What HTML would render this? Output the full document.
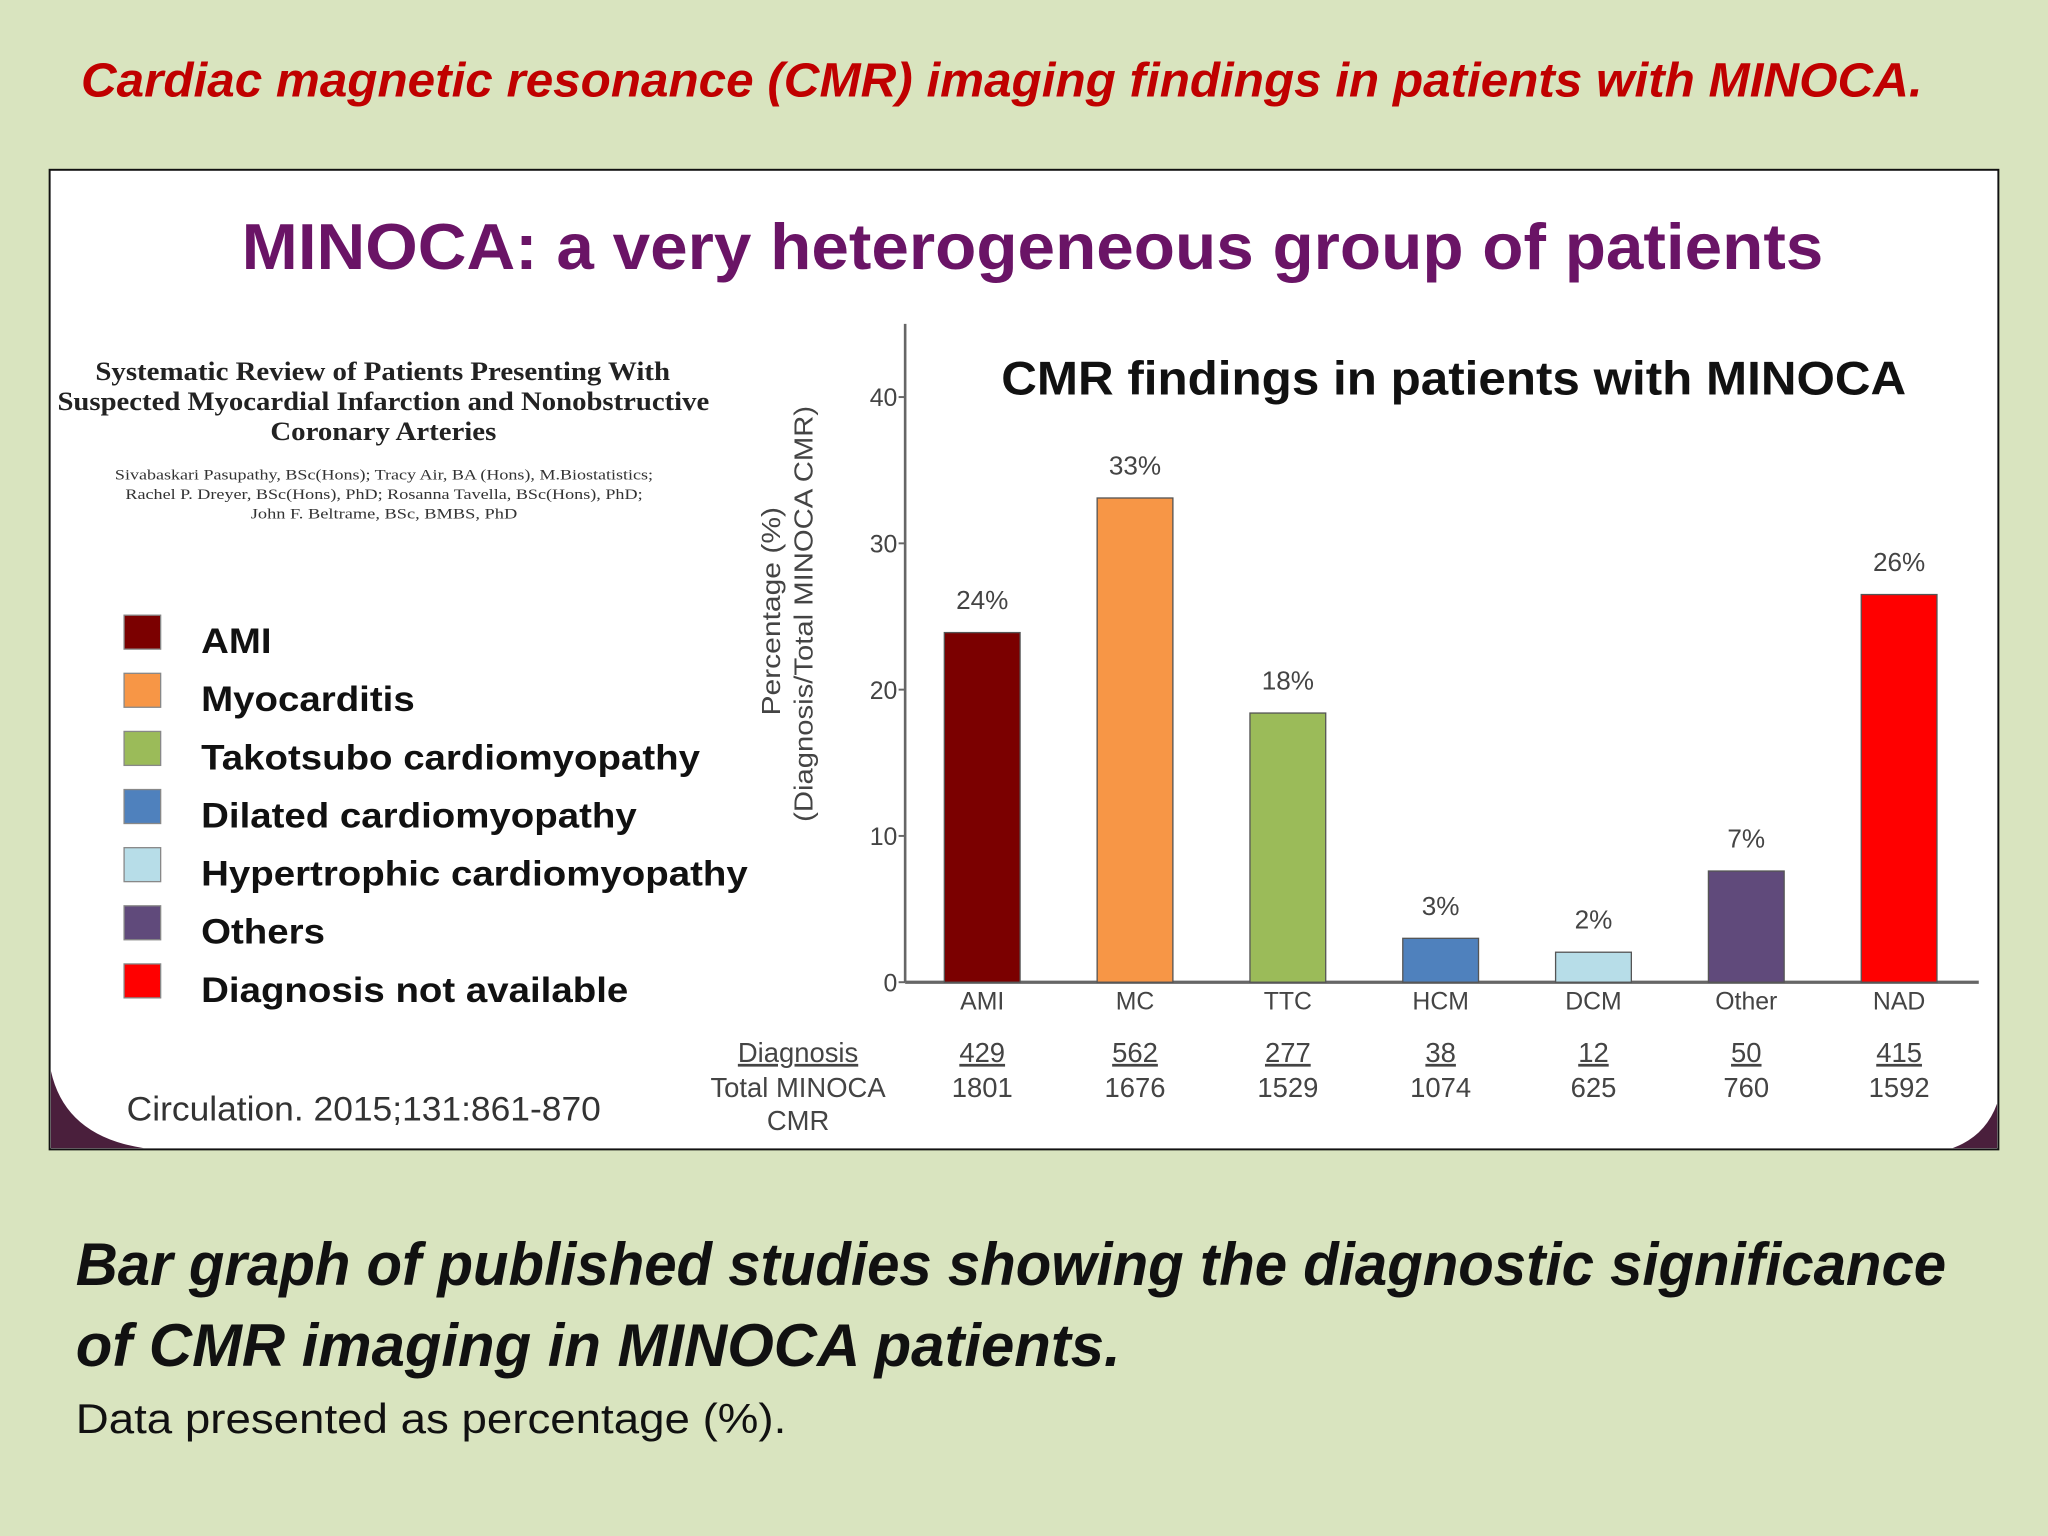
<!DOCTYPE html>
<html><head><meta charset="utf-8">
<style>
html,body{margin:0;padding:0;background:#d9e4bf;}
svg{display:block;}
text{font-family:"Liberation Sans",sans-serif;}
</style></head>
<body>
<svg id="s" width="2048" height="1536" viewBox="0 0 1568 1176" xmlns="http://www.w3.org/2000/svg">
  <rect x="0" y="0" width="1568" height="1176" fill="#d9e4bf"/>
  <text x="62" y="74" font-size="37" font-weight="bold" font-style="italic" fill="#c00000" textLength="1410" lengthAdjust="spacingAndGlyphs">Cardiac magnetic resonance (CMR) imaging findings in patients with MINOCA.</text>

  <g>
    <rect x="38" y="130" width="1492" height="750" fill="#ffffff" stroke="#111" stroke-width="1.5"/>
    <path d="M39 820 Q50 870 110 879 L39 879 Z" fill="#4a1f3c"/>
    <path d="M1529 845 Q1520 870 1495 879 L1529 879 Z" fill="#4a1f3c"/>
    <text x="185" y="206" font-size="50" font-weight="bold" fill="#6a1466" textLength="1211" lengthAdjust="spacingAndGlyphs">MINOCA: a very heterogeneous group of patients</text>

    <g>
      <text x="73" y="291" font-size="20" font-weight="bold" fill="#222" textLength="440" lengthAdjust="spacingAndGlyphs" style="font-family:'Liberation Serif',serif">Systematic Review of Patients Presenting With</text>
      <text x="44" y="314" font-size="20" font-weight="bold" fill="#222" textLength="499" lengthAdjust="spacingAndGlyphs" style="font-family:'Liberation Serif',serif">Suspected Myocardial Infarction and Nonobstructive</text>
      <text x="207" y="337" font-size="20" font-weight="bold" fill="#222" textLength="173" lengthAdjust="spacingAndGlyphs" style="font-family:'Liberation Serif',serif">Coronary Arteries</text>
      <text x="88" y="367" font-size="11" fill="#333" textLength="412" lengthAdjust="spacingAndGlyphs" style="font-family:'Liberation Serif',serif">Sivabaskari Pasupathy, BSc(Hons); Tracy Air, BA (Hons), M.Biostatistics;</text>
      <text x="96" y="382" font-size="11" fill="#333" textLength="396" lengthAdjust="spacingAndGlyphs" style="font-family:'Liberation Serif',serif">Rachel P. Dreyer, BSc(Hons), PhD; Rosanna Tavella, BSc(Hons), PhD;</text>
      <text x="192" y="397" font-size="11" fill="#333" textLength="204" lengthAdjust="spacingAndGlyphs" style="font-family:'Liberation Serif',serif">John F. Beltrame, BSc, BMBS, PhD</text>
    </g>

    <g id="legend"></g>

    <text x="97" y="858" font-size="26" fill="#333" textLength="363" lengthAdjust="spacingAndGlyphs">Circulation. 2015;131:861-870</text>

    <g id="chart"></g>
  </g>

  <text x="58" y="984" font-size="46" font-weight="bold" font-style="italic" fill="#111" textLength="1432" lengthAdjust="spacingAndGlyphs">Bar graph of published studies showing the diagnostic significance</text>
  <text x="58" y="1046" font-size="46" font-weight="bold" font-style="italic" fill="#111" textLength="800" lengthAdjust="spacingAndGlyphs">of CMR imaging in MINOCA patients.</text>
  <text x="58" y="1097" font-size="32" fill="#111" textLength="544" lengthAdjust="spacingAndGlyphs">Data presented as percentage (%).</text>
</svg>
<script>
const categories = ["AMI","MC","TTC","HCM","DCM","Other","NAD"];
const values = [23.9, 33.1, 18.4, 3.0, 2.05, 7.6, 26.5];
const valueLabels = ["24%","33%","18%","3%","2%","7%","26%"];
const diagnosisCounts = ["429","562","277","38","12","50","415"];
const totalCounts = ["1801","1676","1529","1074","625","760","1592"];
const barColors = ["#7b0000","#f79646","#9bbb59","#4f81bd","#b7dde8","#604a7b","#ff0000"];
const yTicks = [0,10,20,30,40];
const legendLabels = ["AMI","Myocarditis","Takotsubo cardiomyopathy","Dilated cardiomyopathy","Hypertrophic cardiomyopathy","Others","Diagnosis not available"];
const legendColors = ["#7b0000","#f79646","#9bbb59","#4f81bd","#b7dde8","#604a7b","#ff0000"];

const NS = "http://www.w3.org/2000/svg";
function mk(tag, attrs, parent, txt){
  const e = document.createElementNS(NS, tag);
  for (const k in attrs) e.setAttribute(k, attrs[k]);
  if (txt !== undefined) e.textContent = txt;
  parent.appendChild(e);
  return e;
}
function stretch(el, f){
  const w = el.getComputedTextLength();
  el.setAttribute("textLength", (w * f).toFixed(1));
  el.setAttribute("lengthAdjust", "spacingAndGlyphs");
}
const chart = document.getElementById("chart");
const x0 = 693, xEnd = 1515, y0 = 752, yTop = 248;
const yScale = v => y0 - v * 11.2;
const xCenter = i => 752 + i * 117;
const barW = 58;

let e = mk("line", {x1:x0, y1:yTop, x2:x0, y2:y0, stroke:"#666", "stroke-width":2}, chart);


e = mk("line", {x1:x0, y1:y0, x2:xEnd, y2:y0, stroke:"#666", "stroke-width":2.5}, chart);


yTicks.forEach(t => {
  const l = mk("line", {x1:x0-5, y1:yScale(t), x2:x0, y2:yScale(t), stroke:"#666", "stroke-width":1.5}, chart);
  
  
  const tx = mk("text", {x:x0-6, y:yScale(t)+7, "text-anchor":"end", "font-size":19, fill:"#444"}, chart, String(t));
  
  
});
e = mk("text", {x:0, y:0, "text-anchor":"middle", "font-size":20, fill:"#444", transform:"translate(597,468) rotate(-90)"}, chart, "Percentage (%)");


stretch(e, 1.15);
e = mk("text", {x:0, y:0, "text-anchor":"middle", "font-size":20, fill:"#444", transform:"translate(622,470) rotate(-90)"}, chart, "(Diagnosis/Total MINOCA CMR)");


stretch(e, 1.12);
e = mk("text", {x:1113, y:302, "text-anchor":"middle", "font-size":36, "font-weight":"bold", fill:"#111"}, chart, "CMR findings in patients with MINOCA");


stretch(e, 1.05);

categories.forEach((c, i) => {
  const cx = xCenter(i), top = yScale(values[i]);
  const b = mk("rect", {x:cx-barW/2, y:top, width:barW, height:y0-top, fill:barColors[i], stroke:"#555", "stroke-width":1}, chart);
  
  
  const vl = mk("text", {x:cx, y:top-18, "text-anchor":"middle", "font-size":20, fill:"#444"}, chart, valueLabels[i]);
  
  
  const cl = mk("text", {x:cx, y:773, "text-anchor":"middle", "font-size":19, fill:"#444"}, chart, c);
  
  
  const dl = mk("text", {x:cx, y:813, "text-anchor":"middle", "font-size":21, fill:"#444", "text-decoration":"underline"}, chart, diagnosisCounts[i]);
  
  
  const tl = mk("text", {x:cx, y:840, "text-anchor":"middle", "font-size":21, fill:"#444"}, chart, totalCounts[i]);
  
  
});
e = mk("text", {x:611, y:813, "text-anchor":"middle", "font-size":21, fill:"#444", "text-decoration":"underline"}, chart, "Diagnosis");


e = mk("text", {x:611, y:840, "text-anchor":"middle", "font-size":21, fill:"#444"}, chart, "Total MINOCA");


e = mk("text", {x:611, y:865, "text-anchor":"middle", "font-size":21, fill:"#444"}, chart, "CMR");



const legend = document.getElementById("legend");
legendLabels.forEach((lab, i) => {
  const y = 471 + i * 44.5;
  const sw = mk("rect", {x:95, y:y, width:28, height:26, fill:legendColors[i], stroke:"#888", "stroke-width":1}, legend);
  
  
  const t = mk("text", {x:154, y:y+29, "font-size":27, "font-weight":"bold", fill:"#111"}, legend, lab);
  
  
  stretch(t, 1.09);
});
</script>
</body></html>
